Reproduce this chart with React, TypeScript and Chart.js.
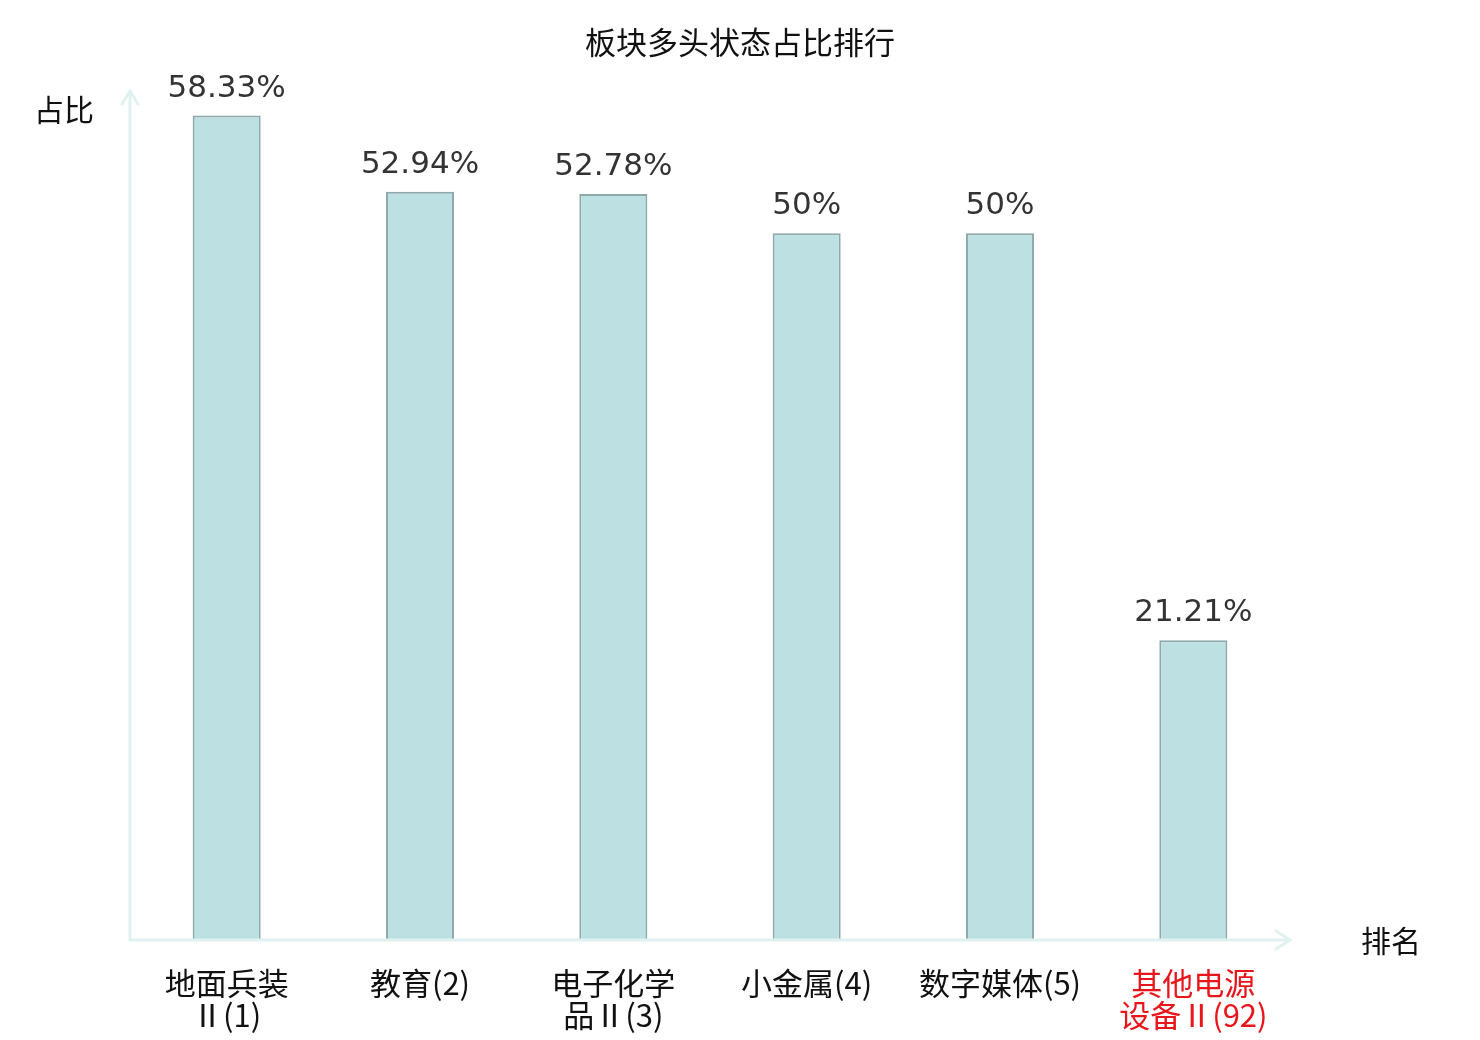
import { Chart, registerables, Plugin } from "chart.js";
import { useEffect, useRef } from "react";

Chart.register(...registerables);

// Sector names, split into the two lines drawn under each bar
const categories: string[][] = [
  ["地面兵装", "Ⅱ(1)"],
  ["教育(2)"],
  ["电子化学", "品Ⅱ(3)"],
  ["小金属(4)"],
  ["数字媒体(5)"],
  ["其他电源", "设备Ⅱ(92)"],
];
const shares = [58.33, 52.94, 52.78, 50, 50, 21.21];
const shareLabels = ["58.33%", "52.94%", "52.78%", "50%", "50%", "21.21%"];
const highlightIndex = 5;

const TITLE = "板块多头状态占比排行";
const Y_NAME = "占比";
const X_NAME = "排名";

const AXIS_COLOR = "#dff2f0";
const CJK = '"Noto Sans CJK SC", "Noto Sans", sans-serif';
const LATIN = '"DejaVu Sans", sans-serif';

// Draws the arrowed axes, title, axis names, value labels and category labels
const decorations: Plugin<"bar"> = {
  id: "decorations",
  afterDatasetsDraw(chart) {
    const { ctx, chartArea } = chart;
    const { left, right, top, bottom } = chartArea;
    const xScale = chart.scales.x;
    const meta = chart.getDatasetMeta(0);

    ctx.save();

    // axes with arrow heads
    ctx.strokeStyle = AXIS_COLOR;
    ctx.lineWidth = 3;
    ctx.lineCap = "round";
    ctx.beginPath();
    ctx.moveTo(left, bottom);
    ctx.lineTo(left, top - 1);
    ctx.moveTo(left - 8, top + 12);
    ctx.lineTo(left, top - 1);
    ctx.lineTo(left + 8, top + 12);
    ctx.moveTo(left, bottom);
    ctx.lineTo(right, bottom);
    ctx.moveTo(right - 14, bottom - 9);
    ctx.lineTo(right, bottom);
    ctx.lineTo(right - 14, bottom + 9);
    ctx.stroke();

    // title
    ctx.fillStyle = "#111";
    ctx.textAlign = "center";
    ctx.textBaseline = "middle";
    ctx.font = `31px ${CJK}`;
    ctx.fillText(TITLE, chart.width / 2, 42);

    // axis names
    ctx.font = `30px ${CJK}`;
    ctx.textAlign = "left";
    ctx.fillText(Y_NAME, 34, 110);
    ctx.fillText(X_NAME, 1361, 941);

    // value labels above bars
    ctx.fillStyle = "#333";
    ctx.textAlign = "center";
    ctx.textBaseline = "alphabetic";
    ctx.font = `31px ${LATIN}`;
    meta.data.forEach((bar, i) => {
      ctx.fillText(shareLabels[i], bar.x, bar.y - 19);
    });

    // category labels
    ctx.font = `31px ${CJK}`;
    ctx.textBaseline = "middle";
    categories.forEach((lines, i) => {
      const x = xScale.getPixelForValue(i);
      ctx.fillStyle = i === highlightIndex ? "#e8151b" : "#111";
      lines.forEach((line, j) => {
        ctx.fillText(line, x, 983 + j * 32);
      });
    });

    ctx.restore();
  },
};

export default function App() {
  const canvasRef = useRef<HTMLCanvasElement>(null);

  useEffect(() => {
    document.body.style.margin = "0";
    if (!canvasRef.current) return;

    const chart = new Chart(canvasRef.current, {
      type: "bar",
      data: {
        labels: categories.map((c) => c.join("")),
        datasets: [
          {
            data: shares,
            backgroundColor: "#bde0e3",
            borderColor: "#8ea9a9",
            borderWidth: 2,
            barPercentage: 0.352,
            categoryPercentage: 1,
          },
        ],
      },
      options: {
        animation: false,
        responsive: false,
        devicePixelRatio: 1,
        layout: {
          padding: { left: 130, right: 190, top: 92, bottom: 100 },
        },
        plugins: {
          legend: { display: false },
          tooltip: { enabled: false },
          title: { display: false },
        },
        scales: {
          x: { display: false },
          y: { display: false, min: 0, max: 60 },
        },
      },
      plugins: [decorations],
    });

    return () => chart.destroy();
  }, []);

  return (
    <div style={{ width: 1480, height: 1040, background: "#fff" }}>
      <canvas ref={canvasRef} width={1480} height={1040} />
    </div>
  );
}
